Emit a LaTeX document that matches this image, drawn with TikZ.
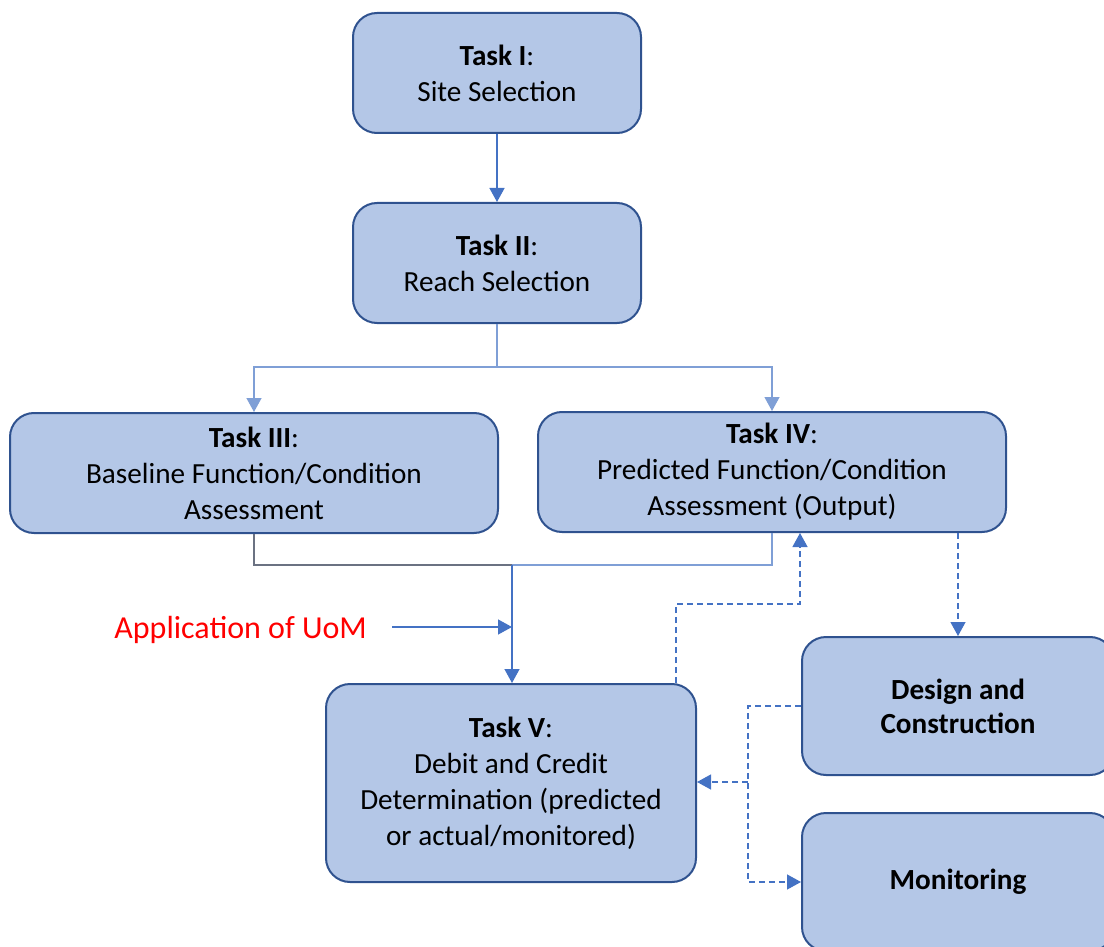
\documentclass[tikz,border=0pt]{standalone}
\usepackage{fontspec}
\setmainfont{Carlito}
\usetikzlibrary{arrows.meta}
\definecolor{boxFill}{HTML}{B4C7E7}
\definecolor{boxLine}{HTML}{2F528F}
\definecolor{arrowBlue}{HTML}{4472C4}
\definecolor{lightBlue}{HTML}{7F9FD6}
\definecolor{lineGray}{HTML}{6B7282}
\tikzset{
    task/.style={draw=boxLine, line width=1pt, fill=boxFill, rounded corners=12pt,
        align=center, inner sep=0pt, font=\fontsize{14.6}{18}\selectfont},
    flow/.style={draw=arrowBlue, line width=0.65pt},
    tip/.style={-{Triangle[length=7pt,width=7.5pt]}},
    feedback/.style={flow, dash pattern=on 3pt off 2pt}
}
\begin{document}
\begin{tikzpicture}[x=0.5pt, y=-0.5pt]
    % Page frame
    \useasboundingbox (0,0) rectangle (1104,947);

    % Task boxes
    \node[task, minimum width=144pt, minimum height=60pt] (t1) at (497,73) {\textbf{Task I}:\\Site Selection};
    \node[task, minimum width=144pt, minimum height=60pt] (t2) at (497,263) {\textbf{Task II}:\\Reach Selection};
    \node[task, minimum width=244pt, minimum height=60pt] (t3) at (254,473) {\textbf{Task III}:\\Baseline Function/Condition\\Assessment};
    \node[task, minimum width=234pt, minimum height=60pt] (t4) at (772,472) {\textbf{Task IV}:\\Predicted Function/Condition\\Assessment (Output)};
    \node[task, minimum width=185pt, minimum height=99pt] (t5) at (511,783) {\textbf{Task V}:\\Debit and Credit\\Determination (predicted\\or actual/monitored)};
    \node[task, minimum width=156pt, minimum height=69pt, font=\fontsize{14.6}{17}\selectfont\bfseries] (dc) at (958,706) {Design and\\Construction};
    \node[task, minimum width=156pt, minimum height=69pt, font=\fontsize{14.6}{17}\selectfont\bfseries] (mon) at (958,882) {Monitoring};

    % Label
    \node[text=red, font=\fontsize{16}{19}\selectfont, anchor=east] (uom) at (374,630) {Application of UoM};

    % Junction points
    \coordinate (split) at (497,367);
    \coordinate (join) at (512,565);
    \coordinate (uomin) at (512,627);
    \coordinate (fb1) at (676,604);
    \coordinate (fb2) at (800,604);
    \coordinate (fork) at (748,782);

    % Main flow
    \draw[flow, tip] (t1) -- (t2);
    \draw[flow, draw=lightBlue] (t2) -- (split);
    \draw[flow, draw=lightBlue, tip] (split) -| (t3.north);
    \draw[flow, draw=lightBlue, tip] (split) -| (t4.north);
    \draw[flow, draw=lineGray] (t3.south) |- (join);
    \draw[flow, draw=lightBlue] (t4.south) |- (join);
    \draw[flow, tip] (join) -- (t5.north -| join);
    \draw[flow, tip] ([xshift=9pt]uomin -| uom.east) -- (uomin);

    % Dashed feedback
    \draw[feedback, tip] (t5.north -| fb1) -- (fb1) -- (fb2) -- (t4.south -| fb2);
    \draw[feedback, tip] (t4.south -| dc.north) -- (dc.north);
    \draw[feedback, tip] (dc.west) -| (fork) |- (mon.west);
    \draw[feedback, tip] (fork) -- (t5.east |- fork);
\end{tikzpicture}
\end{document}
